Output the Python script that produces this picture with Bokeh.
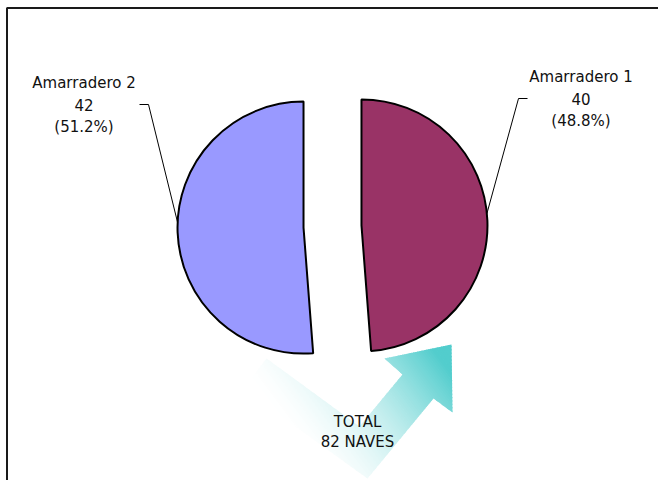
import numpy as np
from bokeh.plotting import figure
from bokeh.models import Range1d
from bokeh.embed import file_html
from bokeh.resources import INLINE
from bokeh.core.properties import value

# ---------------- data ----------------
categories = ["Amarradero 1", "Amarradero 2"]
counts = [40, 42]
slice_colors = ["#993366", "#9999FF"]
total_word = "TOTAL"
unit_word = "NAVES"

# ---------------- layout constants ----------------
W, H = 658, 480
CX, CY = 332, 254          # pie centre (data units == pixels)
R = 126                    # pie radius
EXPLODE = 29               # explosion distance
FONT = "DejaVu Sans"
FS = "15px"
TEXT_COLOR = "#111111"

# label blocks: centre x, baseline y of first line, line step
label_x = [580.5, 83.5]
label_y0 = [404, 398]
label_step = 22.3
# leader lines: outer end, elbow, angle (deg) on slice arc
leader_end = [(527, 382), (139, 376)]
leader_elbow = [(518, 382), (148, 376)]
leader_angle = [5.4, 177.7]

# arrow outline (decorative shape) and gradient
arrow_x = [266, 243, 367, 433, 452, 451, 384, 402, 359]
arrow_y = [122, 92, 2, 82, 68, 136, 122, 106, 54]
arrow_rgb = (82, 205, 205)
grad_origin = (445, 115)
grad_dir = (-0.8, -0.6)
grad_len = 165.0

p = figure(width=W, height=H, x_range=Range1d(0, W), y_range=Range1d(0, H),
           output_backend="svg", toolbar_location=None, min_border=0,
           x_axis_type=None, y_axis_type=None)
p.grid.visible = False
p.outline_line_color = None
p.background_fill_color = "white"
p.border_fill_color = "white"

# ---------------- gradient arrow ----------------
def clip_half(poly, n, c):
    out = []
    L = len(poly)
    for i in range(L):
        a = poly[i]
        b = poly[(i + 1) % L]
        da = n[0] * a[0] + n[1] * a[1] - c
        db = n[0] * b[0] + n[1] * b[1] - c
        if da <= 0:
            out.append(a)
        if (da < 0 < db) or (db < 0 < da):
            s = da / (da - db)
            out.append((a[0] + s * (b[0] - a[0]), a[1] + s * (b[1] - a[1])))
    return out

poly = list(zip(arrow_x, arrow_y))
u = grad_dir
uo = u[0] * grad_origin[0] + u[1] * grad_origin[1]
ts = [u[0] * x + u[1] * y - uo for x, y in poly]
tmin, tmax = min(ts), max(ts)
step = 2.0
bx, by, bc = [], [], []
t0 = tmin - 1
while t0 < tmax + 1:
    t1 = t0 + step
    q = clip_half(poly, u, t1 + 0.8 + uo)
    q = clip_half(q, (-u[0], -u[1]), -(t0 + uo)) if q else q
    if len(q) >= 3:
        tm = 0.5 * (t0 + t1)
        a = min(1.0, max(0.0, 1.0 - tm / grad_len)) ** 1.6
        rgb = [int(round(255 * (1 - a) + c * a)) for c in arrow_rgb]
        bx.append([pt[0] for pt in q])
        by.append([pt[1] for pt in q])
        bc.append("#%02x%02x%02x" % tuple(rgb))
    t0 = t1
p.patches(xs=bx, ys=by, fill_color=bc, line_color=None)

# ---------------- pie ----------------
vals = np.array(counts, dtype=float)
total = vals.sum()
fracs = vals / total
cum = np.concatenate([[0.0], np.cumsum(fracs)])
start = np.pi / 2 - cum[:-1] * 2 * np.pi
end = np.pi / 2 - cum[1:] * 2 * np.pi
mid = (start + end) / 2
cx = CX + EXPLODE * np.cos(mid)
cy = CY + EXPLODE * np.sin(mid)
p.wedge(x=list(cx), y=list(cy), radius=R, start_angle=list(start), end_angle=list(end),
        direction="clock", fill_color=slice_colors, line_color="black", line_width=2)

# ---------------- leaders & labels ----------------
for i in range(len(categories)):
    ang = np.deg2rad(leader_angle[i])
    ax_ = cx[i] + R * np.cos(ang)
    ay_ = cy[i] + R * np.sin(ang)
    p.line(x=[leader_end[i][0], leader_elbow[i][0], ax_],
           y=[leader_end[i][1], leader_elbow[i][1], ay_],
           line_color="black", line_width=1)
    lines = [categories[i], str(counts[i]), "(%.1f%%)" % (100 * fracs[i])]
    p.text(x=[label_x[i]] * 3, y=[label_y0[i] - k * label_step for k in range(3)],
           text=lines, text_align="center", text_baseline="alphabetic",
           text_font=value(FONT), text_font_size=FS, text_color=TEXT_COLOR)

# total text
p.text(x=[357, 357], y=[59, 39],
       text=[total_word, "%d %s" % (int(total), unit_word)],
       text_align="center", text_baseline="alphabetic",
       text_font=value(FONT), text_font_size=FS, text_color=TEXT_COLOR)

# chart-area frame (top & left visible)
p.line(x=[6.5, 6.5, W], y=[0, H - 7.5, H - 7.5], line_color="#1a1a1a", line_width=2)

open("out.html", "w").write(file_html(p, INLINE))
